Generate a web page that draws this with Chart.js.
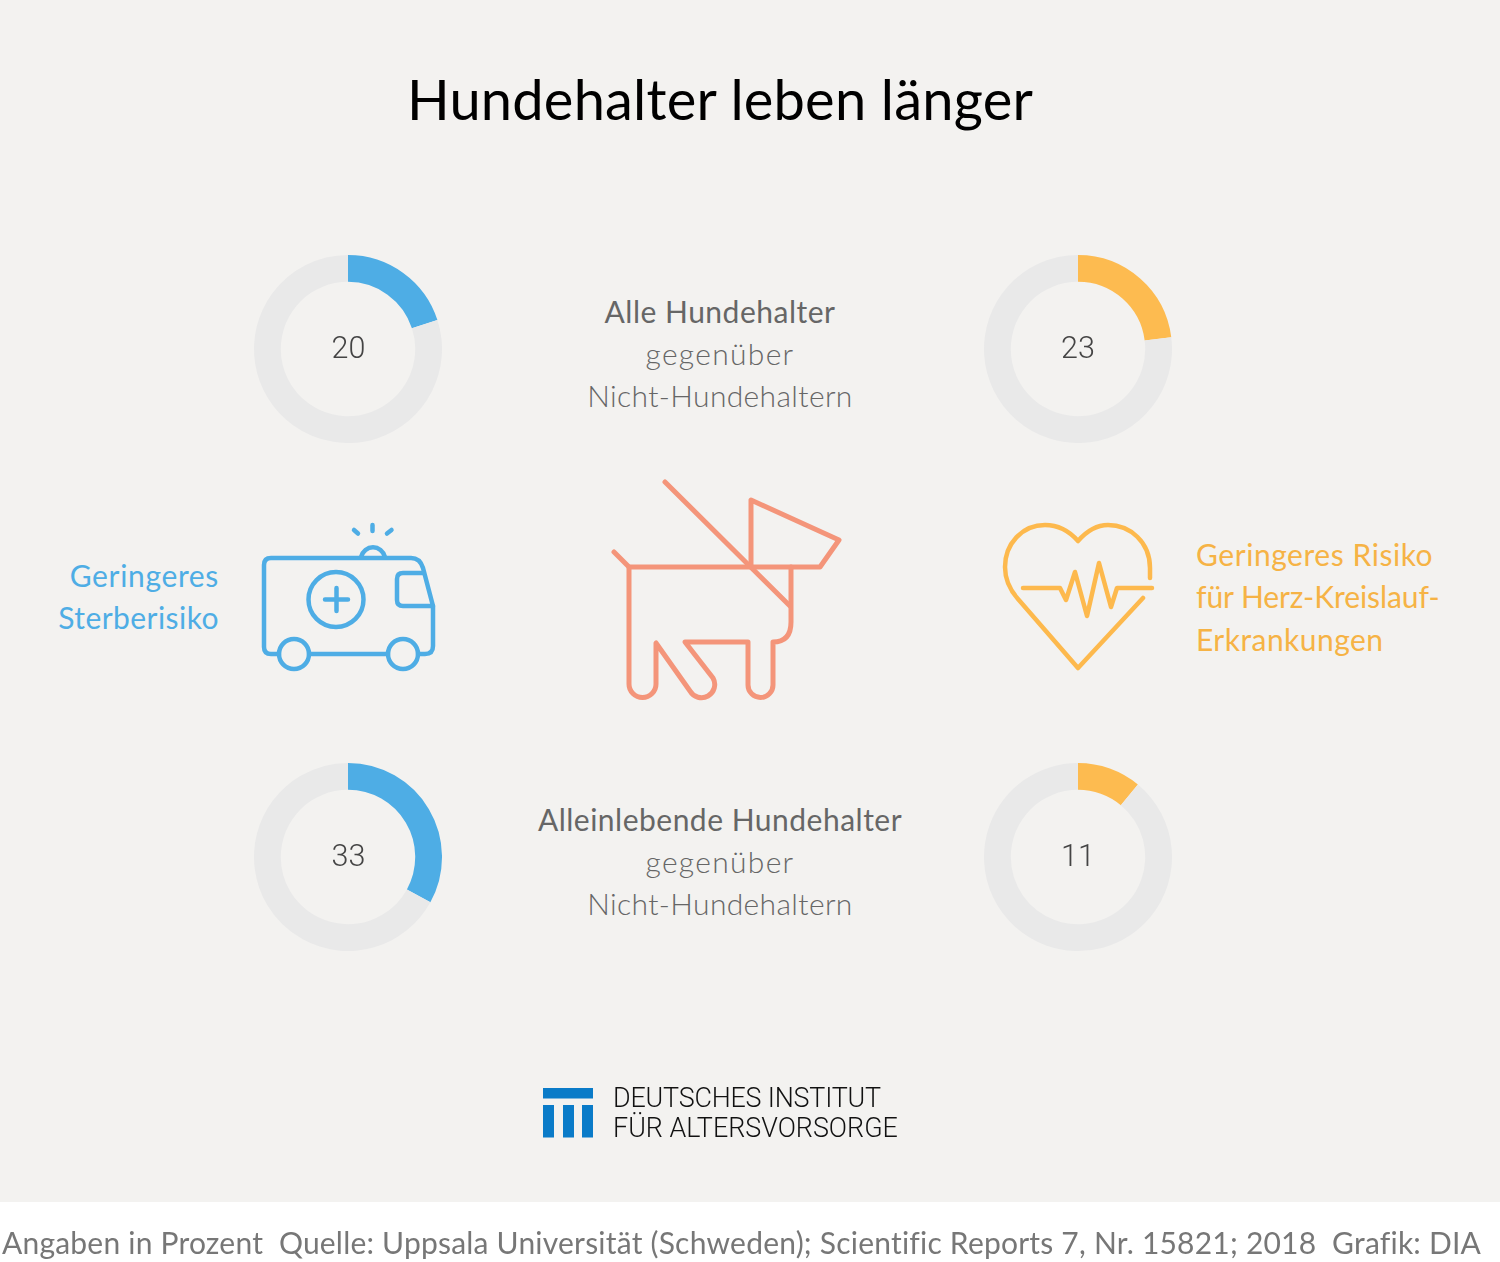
<!DOCTYPE html>
<html lang="de">
<head>
<meta charset="utf-8">
<title>Hundehalter leben länger</title>
<script src="https://cdn.jsdelivr.net/npm/chart.js@4/dist/chart.umd.min.js"></script>
<style>
html, body { margin: 0; padding: 0; }
body { width: 1500px; height: 1262px; position: relative; overflow: hidden; background: #f3f2f0; font-family: Lato, sans-serif; }
.abs { position: absolute; white-space: nowrap; }
canvas { position: absolute; }
#title { left: 0; width: 1440px; top: 61px; text-align: center; font-size: 56px; line-height: 76px; color: #000; letter-spacing: 0.2px; }
.mid { left: 420px; width: 600px; text-align: center; font-size: 30px; line-height: 42px; color: #666; font-weight: 300; letter-spacing: 0.35px; }
.mid b { font-weight: 400; letter-spacing: 0.5px; }
.mid i { font-style: normal; letter-spacing: 1.3px; }
.num { width: 100px; text-align: center; font-family: Roboto, sans-serif; font-weight: 300; font-size: 30.500px; line-height: 40px; color: #444; }
#leftText { right: 1281px; top: 554px; text-align: right; font-size: 30px; line-height: 42px; color: #4eade5; font-weight: 400; letter-spacing: 0.45px; }
#leftText i { font-style: normal; letter-spacing: 0.65px; }
#rightText { left: 1196px; top: 533px; font-size: 30px; line-height: 42.300px; color: #f6b345; font-weight: 400; letter-spacing: 0.45px; }
#rightText i { font-style: normal; letter-spacing: -0.080px; }
#rightText u { text-decoration: none; letter-spacing: 0.55px; }
#logoText { left: 613px; top: 1083px; font-family: Roboto, sans-serif; font-weight: 300; font-size: 26.900px; line-height: 30px; color: #111; }
#logoText span { letter-spacing: -0.200px; }
#footer { left: 0; top: 1202px; width: 1500px; height: 60px; background: #fff; }
#footerText { left: 2px; top: 1221px; font-size: 30px; line-height: 42px; color: #777; font-weight: 400; letter-spacing: 0.21px; }
svg { position: absolute; left: 0; top: 0; }
</style>
</head>
<body>
<div class="abs" id="title">Hundehalter leben länger</div>

<div class="abs mid" style="top:290px"><b>Alle Hundehalter</b><br><i>gegenüber</i><br>Nicht-Hundehaltern</div>
<div class="abs mid" style="top:798px"><b>Alleinlebende Hundehalter</b><br><i>gegenüber</i><br>Nicht-Hundehaltern</div>
<div class="abs" id="leftText"><i>Geringeres</i><br>Sterberisiko</div>
<div class="abs" id="rightText"><u>Geringeres Risiko</u><br><i>für Herz-Kreislauf-</i><br>Erkrankungen</div>

<canvas id="chartAllDeath" width="188" height="188" style="left:254px;top:255px"></canvas>
<canvas id="chartAllHeart" width="188" height="188" style="left:984px;top:255px"></canvas>
<canvas id="chartSingleDeath" width="188" height="188" style="left:254px;top:763px"></canvas>
<canvas id="chartSingleHeart" width="188" height="188" style="left:984px;top:763px"></canvas>

<div class="abs num" id="numAllDeath" style="left:298.500px;top:328px"></div>
<div class="abs num" id="numAllHeart" style="left:1028px;top:328px"></div>
<div class="abs num" id="numSingleDeath" style="left:298.500px;top:836px"></div>
<div class="abs num" id="numSingleHeart" style="left:1028px;top:836px"></div>

<svg width="1500" height="1262" viewBox="0 0 1500 1262" fill="none" stroke-linecap="round" stroke-linejoin="round">
  <!-- ambulance -->
  <g stroke="#4eade5" stroke-width="4.500">
    <path d="M279 654H271Q264 654 264 647V565Q264 558 271 558H411Q420 558 423 568L433 606V646Q433 654 425 654H418"/>
    <path d="M309 654H388"/>
    <circle cx="294" cy="654" r="15"/>
    <circle cx="403" cy="654" r="15"/>
    <path d="M423 573H403Q397 573 397 579V600Q397 606 403 606H433"/>
    <circle cx="336" cy="599.500" r="27.500"/>
    <path d="M325 599.500H348M336.500 588V611"/>
    <path d="M361 557A12.500 13.500 0 0 1 385 557"/>
    <path d="M372.500 525V531M354 530L358 533.500M391.500 530L387 533.500"/>
  </g>
  <!-- dog -->
  <g stroke="#f4957a" stroke-width="5">
    <path d="M665 482L790 606"/>
    <path d="M614 552L629 567H820L839 540L751 500V567"/>
    <path d="M791 567V622Q791 642 773 642V685A12.500 12.500 0 0 1 748 685V642H685L713 678A12.500 12.500 0 0 1 690 691L656 643V684A13.500 13.500 0 0 1 629 684V567"/>
  </g>
  <!-- heart -->
  <g stroke="#fdb94d" stroke-width="4.500">
    <path d="M1150 578V568C1150 542 1130 525 1108 525C1095 525 1085 533 1078 541C1071 533 1060 525 1045 525C1022 525 1005 544 1005 567C1005 580 1010 590 1018 599L1078 668L1143 598"/>
    <path d="M1023 588H1060L1066 600L1075 572L1087 616L1099 563L1111 607L1117 588H1152"/>
  </g>
  <!-- logo -->
  <g fill="#0a7bc8" stroke="none">
    <rect x="543" y="1088" width="50" height="10.500"/>
    <rect x="543" y="1105" width="11" height="32.500"/>
    <rect x="563" y="1105" width="11" height="32.500"/>
    <rect x="582" y="1105" width="11" height="32.500"/>
  </g>
</svg>

<div class="abs" id="logoText"><span>DEUTSCHES INSTITUT</span><br>FÜR ALTERSVORSORGE</div>

<div class="abs" id="footer"></div>
<div class="abs" id="footerText">Angaben in Prozent&nbsp; Quelle: Uppsala Universität (Schweden); Scientific Reports 7, Nr. 15821; 2018&nbsp; Grafik: DIA</div>

<script>
// Werte in Prozent, Rest bis 100 ist der graue Ring
var sliceLabels = ["Geringeres Risiko", "Rest"];
var allDeath = [20, 80];
var allHeart = [23, 77];
var singleDeath = [33, 67];
var singleHeart = [11, 89];

var blue = '#4eade5';
var orange = '#fdbb50';
var track = '#e9e9e9';

function donut(id, numId, values, color) {
    document.getElementById(numId).textContent = values[0];
    var ctx = document.getElementById(id).getContext("2d");
    return new Chart(ctx, {
        type: 'doughnut',
        data: {
            labels: sliceLabels,
            datasets: [{
                data: values,
                backgroundColor: [color, track],
                borderWidth: 0
            }]
        },
        options: {
            responsive: false,
            animation: false,
            cutout: '71.500%',
            plugins: {
                legend: { display: false },
                tooltip: { enabled: false }
            }
        }
    });
}

donut("chartAllDeath", "numAllDeath", allDeath, blue);
donut("chartAllHeart", "numAllHeart", allHeart, orange);
donut("chartSingleDeath", "numSingleDeath", singleDeath, blue);
donut("chartSingleHeart", "numSingleHeart", singleHeart, orange);
</script>
</body>
</html>
